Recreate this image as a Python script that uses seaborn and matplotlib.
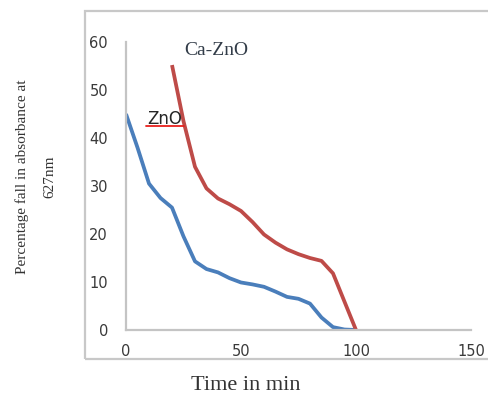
import numpy as np
import pandas as pd
import matplotlib
matplotlib.use("Agg")
import matplotlib.pyplot as plt
from matplotlib.lines import Line2D
from matplotlib.patches import Rectangle
import seaborn as sns

# ---- data ----
zno_time = [0, 5, 10, 15, 20, 25, 30, 35, 40, 45, 50, 55, 60, 65, 70, 75, 80, 85, 90, 95, 100]
zno_fall = [45, 38, 30.5, 27.5, 25.5, 19.5, 14.3, 12.7, 12.0, 10.8, 9.9, 9.5, 9.0, 8.0, 6.9, 6.5,
            5.5, 2.6, 0.6, 0.1, 0]
ca_time = [20, 25, 30, 35, 40, 45, 50, 55, 60, 65, 70, 75, 80, 85, 90, 95, 100]
ca_fall = [55.2, 43.5, 34, 29.5, 27.4, 26.2, 24.8, 22.5, 19.9, 18.2, 16.8, 15.8, 15.0, 14.4,
           11.8, 5.9, 0]
x_ticks = [0, 50, 100, 150]
y_ticks = [0, 10, 20, 30, 40, 50, 60]
series_names = ["ZnO", "Ca-ZnO"]

sns.set_theme(style="white")
plt.rcParams['font.family'] = ['DejaVu Sans']

W, H = 489, 394
fig = plt.figure(figsize=(W / 100, H / 100), dpi=100)
ax = fig.add_axes([126 / W, 1 - 330 / H, 345 / W, 288 / H])

line_kw = dict(linewidth=2.7, sort=False, solid_joinstyle="round", solid_capstyle="butt")
sns.lineplot(x=zno_time, y=zno_fall, ax=ax, color="#4a7ebb", **line_kw)
sns.lineplot(x=ca_time, y=ca_fall, ax=ax, color="#be4b48", **line_kw)

ax.set_xlim(0, 150)
ax.set_ylim(0, 60)
ax.set_xticks(x_ticks)
ax.set_yticks(y_ticks)
ax.set_xticklabels([str(v) for v in x_ticks])
ax.set_yticklabels([str(v) for v in y_ticks])
ax.tick_params(axis="both", length=0, labelsize=10.5, labelcolor="#3a3a3a")
ax.tick_params(axis="y", pad=13)
ax.tick_params(axis="x", pad=10)
for s in ["top", "right"]:
    ax.spines[s].set_visible(False)
for s in ["left", "bottom"]:
    ax.spines[s].set_color("#c4c4c4")
    ax.spines[s].set_linewidth(1.6)
ax.set_xlabel("")
ax.set_ylabel("")
ax.patch.set_alpha(0)

# series labels
ax.text(39.3, 58.3, series_names[1], family="Liberation Serif", fontsize=14,
        color="#323c48", ha="center", va="center")
ax.text(16.7, 44.0, series_names[0], family="DejaVu Sans", fontsize=12,
        color="#262626", ha="center", va="center")
fig.add_artist(Line2D([146 / W, 184 / W], [1 - 126 / H, 1 - 126 / H],
                      transform=fig.transFigure, color="#e8201c", linewidth=1.3))

# outer frame
fig.add_artist(Rectangle((85 / W, 1 - 359 / H), 1.2, (359 - 11) / H,
                         transform=fig.transFigure, fill=False,
                         edgecolor="#c8c8c8", linewidth=1.6))

# axis titles
fig.text(246 / W, 1 - 385 / H, "Time in min", family="Liberation Serif",
         fontsize=16, color="#333333", ha="center", va="center")
fig.text(22 / W, 1 - 177 / H, "Percentage fall in absorbance at", family="Liberation Serif",
         fontsize=11, color="#333333", ha="center", va="center", rotation=90)
fig.text(50 / W, 1 - 177 / H, "627nm", family="Liberation Serif",
         fontsize=11, color="#333333", ha="center", va="center", rotation=90)

fig.savefig("out.png", dpi=100)
